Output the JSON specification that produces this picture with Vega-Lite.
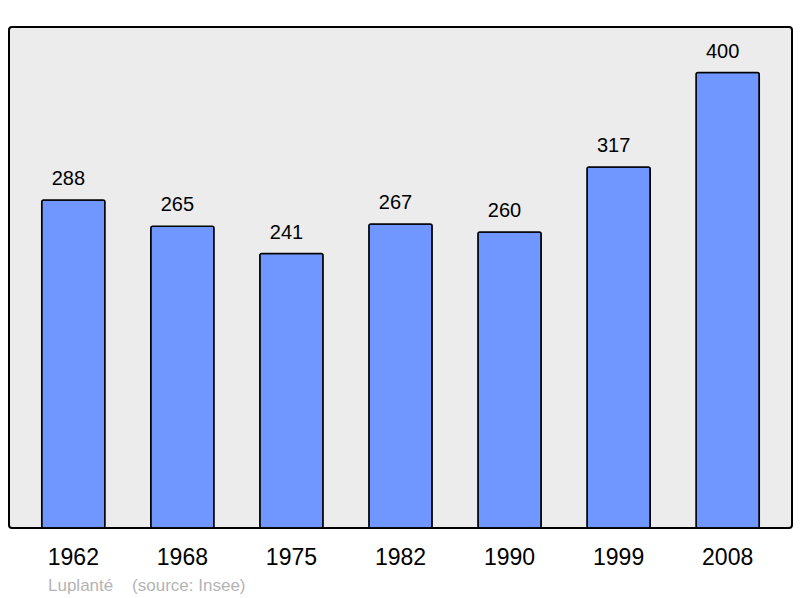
{
  "$schema": "https://vega.github.io/schema/vega-lite/v6.json",
  "width": 783,
  "height": 501,
  "autosize": "none",
  "padding": {"left": 9, "top": 27, "right": 8, "bottom": 70},
  "background": "white",
  "config": {
    "font": "Liberation Sans",
    "view": {"fill": "#ececec", "stroke": "black", "strokeWidth": 2, "cornerRadius": 3}
  },
  "title": {
    "text": "Luplanté\u00a0\u00a0\u00a0\u00a0(source: Insee)",
    "orient": "bottom",
    "anchor": "start",
    "dx": 39,
    "offset": 9,
    "fontSize": 17,
    "fontWeight": "normal",
    "color": "#b4b4b4",
    "font": "Liberation Sans"
  },
  "data": {
    "values": [
      {"year": "1962", "pop": 288},
      {"year": "1968", "pop": 265},
      {"year": "1975", "pop": 241},
      {"year": "1982", "pop": 267},
      {"year": "1990", "pop": 260},
      {"year": "1999", "pop": 317},
      {"year": "2008", "pop": 400}
    ]
  },
  "encoding": {
    "x": {
      "field": "year",
      "type": "ordinal",
      "scale": {"paddingInner": 0.42, "paddingOuter": 0.3},
      "axis": {
        "title": null,
        "domain": false,
        "ticks": false,
        "labelAngle": 0,
        "labelFontSize": 23,
        "labelColor": "black",
        "labelPadding": 18
      }
    },
    "y": {
      "field": "pop",
      "type": "quantitative",
      "scale": {"domain": [0, 440], "nice": false},
      "axis": null
    }
  },
  "layer": [
    {
      "mark": {"type": "bar", "fill": "#7096ff", "stroke": "black", "strokeWidth": 1.5, "cornerRadius": 2}
    },
    {
      "mark": {"type": "text", "fontSize": 20, "color": "black", "baseline": "middle", "dy": -21, "dx": -5},
      "encoding": {"text": {"field": "pop", "type": "quantitative"}}
    }
  ]
}
